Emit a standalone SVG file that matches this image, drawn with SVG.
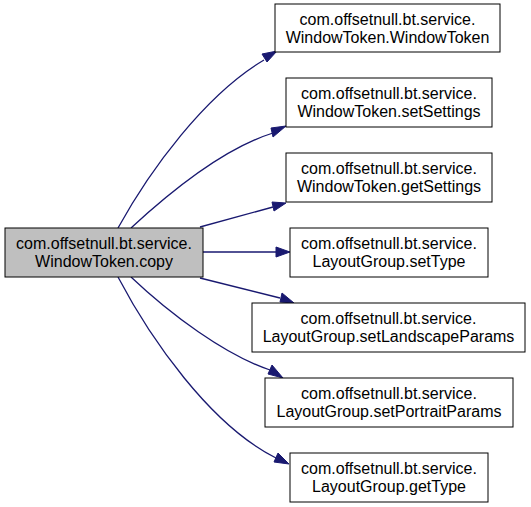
<svg xmlns="http://www.w3.org/2000/svg" width="531" height="507" viewBox="0 0 531 507">
<style>
.n rect{fill:#fff;stroke:#000;stroke-width:1}
.n.main rect{fill:#bfbfbf}
.n text{font-family:"Liberation Sans",Arial,sans-serif;font-size:16px;text-anchor:middle;fill:#000}
.e path{fill:none;stroke:#191970;stroke-width:1.3}
.e polygon{fill:#191970;stroke:#191970;stroke-width:1}
</style>
<rect width="531" height="507" fill="#fff"/>
<g id="connectors" class="e">
<path d="M118,228 C150,170 205,95 264,60"/>
<polygon points="262,54 277,51 267,62"/>
<path d="M131,228 C170,192 225,148 273,133"/>
<polygon points="271,128 286,126 273,137"/>
<path d="M200,227 L273,207"/>
<polygon points="272,202 286,203 274,211"/>
<path d="M203,252 L276,252"/>
<polygon points="276,247 290,252 276,257"/>
<path d="M200,278 L280,298"/>
<polygon points="282,293 294,303 280,302"/>
<path d="M131,277 C170,314 225,355 270,370"/>
<polygon points="272,365 283,378 268,374"/>
<path d="M118,277 C150,338 210,425 276,458"/>
<polygon points="278,453 289,464 274,462"/>
</g>
<g id="node0" class="n main"><rect x="5" y="228" width="198" height="49"/><text x="104" y="249">com.offsetnull.bt.service.</text><text x="104" y="267">WindowToken.copy</text></g>
<g id="node1" class="n"><rect x="275" y="4" width="225" height="48"/><text x="387.5" y="25">com.offsetnull.bt.service.</text><text x="387.5" y="43">WindowToken.WindowToken</text></g>
<g id="node2" class="n"><rect x="286" y="78" width="206" height="49"/><text x="389" y="99">com.offsetnull.bt.service.</text><text x="389" y="117">WindowToken.setSettings</text></g>
<g id="node3" class="n"><rect x="286" y="153" width="206" height="49"/><text x="389" y="174">com.offsetnull.bt.service.</text><text x="389" y="192">WindowToken.getSettings</text></g>
<g id="node4" class="n"><rect x="290" y="228" width="198" height="49"/><text x="389" y="249">com.offsetnull.bt.service.</text><text x="389" y="267">LayoutGroup.setType</text></g>
<g id="node5" class="n"><rect x="252" y="303" width="273" height="49"/><text x="388.5" y="324">com.offsetnull.bt.service.</text><text x="388.5" y="342">LayoutGroup.setLandscapeParams</text></g>
<g id="node6" class="n"><rect x="265" y="378" width="248" height="49"/><text x="389" y="399">com.offsetnull.bt.service.</text><text x="389" y="417">LayoutGroup.setPortraitParams</text></g>
<g id="node7" class="n"><rect x="290" y="453" width="198" height="49"/><text x="389" y="474">com.offsetnull.bt.service.</text><text x="389" y="492">LayoutGroup.getType</text></g>
</svg>
